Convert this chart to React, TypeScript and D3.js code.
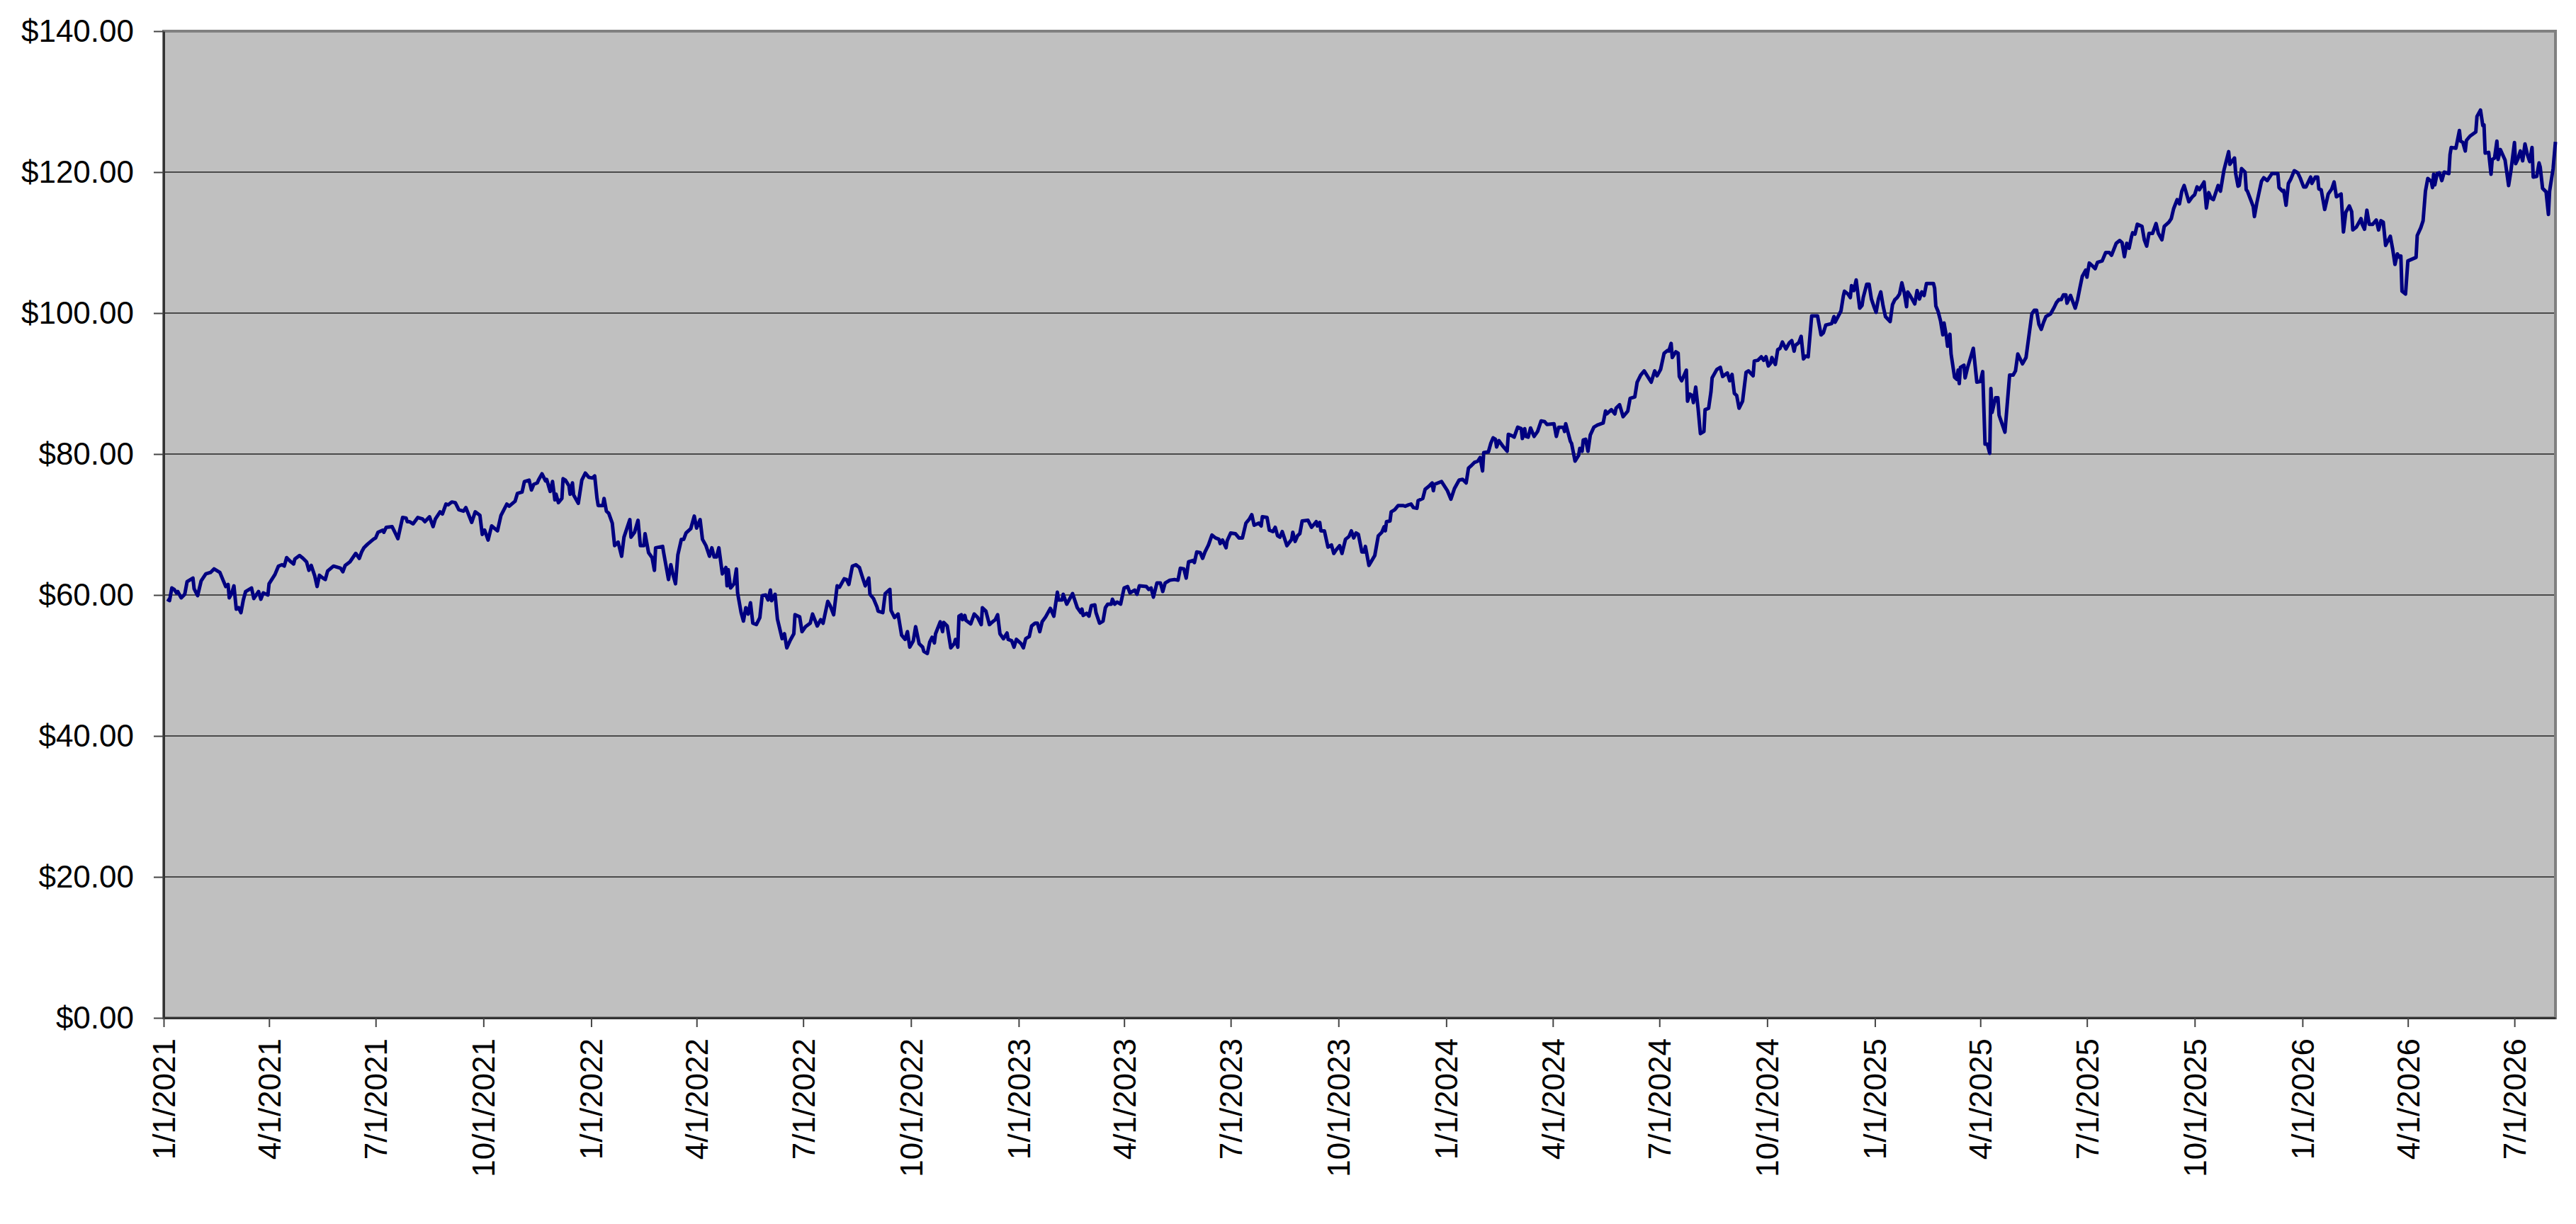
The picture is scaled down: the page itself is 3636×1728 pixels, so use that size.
import * as d3 from 'd3';
import React, { useEffect, useRef } from 'react';

const startDate = Date.UTC(2021, 0, 1);

const dayOffsets = [
  // 2021
  3, 5, 7, 9, 11, 12, 15, 18, 20, 25,
  26, 29, 32, 36, 40, 43, 48, 51, 53, 55,
  56, 58, 60, 62, 64, 66, 68, 70, 75, 77,
  81, 83, 85, 89, 90, 95, 98, 101, 103, 105,
  108, 111, 112, 116, 119, 122, 124, 126, 129, 131,
  133, 136, 138, 140, 145, 151, 153, 155, 159, 164,
  167, 169, 171, 174, 179, 181, 183, 187, 188, 190,
  195, 198, 200, 204, 207, 208, 210, 213, 217, 221,
  223, 227, 230, 232, 236, 238, 241, 243, 246, 249,
  252, 256, 258, 263, 266, 270, 272, 274, 277, 280,
  285, 288, 293,
  // late 2021 - mid 2022
  295, 300, 302, 306, 308, 312, 314, 316, 319, 320,
  323, 326, 327, 330, 332, 334, 335, 337, 340, 341,
  343, 346, 347, 349, 350, 354, 357, 360, 363, 366,
  368, 370, 371, 375, 376, 378, 380, 383, 385, 388,
  391, 393, 398, 399, 402, 405, 407, 410, 411, 414,
  417, 419, 420, 426, 427, 431, 433, 435, 437, 439,
  442, 444, 446, 450, 453, 455, 458, 460, 463, 466,
  468, 470, 472, 474, 477, 480, 481, 482, 484, 487,
  489, 490, 493, 495, 497, 499, 501, 503, 506, 509,
  511, 514, 516, 518, 519, 522, 524, 528, 530, 532,
  535, 538, 539, 543, 545, 548, 552, 554, 558, 561,
  563, 567, 569, 572, 575, 577, 581, 583, 585, 588,
  // mid 2022 - mid 2023
  591, 594, 597, 599, 602, 603, 606, 609, 610, 614,
  616, 620, 621, 624, 627, 630, 633, 635, 637, 640,
  642, 645, 648, 649, 652, 654, 656, 658, 659, 663,
  665, 666, 669, 672, 675, 676, 678, 679, 681, 682,
  684, 685, 689, 692, 695, 698, 699, 702, 705, 707,
  710, 712, 714, 717, 720, 721, 724, 726, 728, 732,
  734, 736, 739, 741, 744, 746, 748, 750, 753, 757,
  760, 763, 764, 767, 768, 771, 776, 780, 783, 784,
  785, 788, 790, 792, 795, 796, 799, 802, 804, 806,
  809, 810, 812, 814, 817, 820, 823, 825, 829, 831,
  833, 839, 841, 843, 845, 848, 851, 853, 855, 859,
  863, 866, 868, 871, 873, 875, 879, 880, 882, 885,
  // mid 2023 - early 2024
  887, 889, 892, 895, 898, 901, 902, 904, 907, 908,
  911, 915, 918, 921, 924, 927, 929, 931, 935, 937,
  938, 942, 944, 947, 949, 951, 953, 955, 959, 963,
  964, 966, 968, 970, 972, 977, 980, 984, 985, 987,
  988, 991, 994, 997, 999, 1001, 1004, 1006, 1009, 1012,
  1014, 1016, 1018, 1020, 1023, 1025, 1026, 1029, 1034, 1037,
  1040, 1042, 1043, 1044, 1047, 1048, 1051, 1054, 1058, 1060,
  1063, 1065, 1067, 1070, 1071, 1075, 1077, 1080, 1083, 1084,
  1085, 1091, 1096, 1099, 1102, 1106, 1109, 1112, 1114, 1116,
  1119, 1122, 1124, 1126, 1127, 1131, 1133, 1135, 1137, 1138,
  1140, 1143, 1147, 1148, 1151, 1153, 1156, 1159, 1160, 1162,
  1163, 1165, 1167, 1170, 1173, 1176, 1179, 1181,
  // 2024
  1187, 1189, 1191, 1195, 1196, 1197, 1201, 1202, 1205, 1208,
  1209, 1211, 1212, 1214, 1216, 1218, 1221, 1224, 1229, 1231,
  1232, 1236, 1239, 1240, 1243, 1246, 1250, 1252, 1256, 1258,
  1261, 1264, 1270, 1273, 1275, 1278, 1281, 1284, 1285, 1287,
  1288, 1291, 1293, 1294, 1296, 1300, 1301, 1303, 1305, 1306,
  1308, 1310, 1312, 1315, 1316, 1319, 1321, 1322, 1326, 1329,
  1331, 1335, 1337, 1339, 1341, 1343, 1345, 1348, 1351, 1353,
  1357, 1358, 1361, 1364, 1366, 1368, 1370, 1372, 1373, 1376,
  1378, 1380, 1382, 1385, 1388, 1390, 1392, 1393, 1396, 1398,
  1400, 1402, 1404, 1407, 1412, 1415, 1417, 1419, 1424, 1426,
  1427, 1432, 1434, 1435, 1438, 1440, 1441, 1443, 1445, 1448,
  1450, 1451, 1454, 1456, 1458, 1460, 1462, 1464, 1466, 1468,
  1470, 1474, 1476, 1478,
  // 2025
  1480, 1482, 1484, 1486, 1488, 1489, 1491, 1495, 1497, 1499,
  1501, 1503, 1505, 1511, 1512, 1513, 1515, 1517, 1519, 1520,
  1522, 1523, 1525, 1526, 1529, 1531, 1532, 1533, 1534, 1537,
  1538, 1540, 1545, 1548, 1551, 1553, 1555, 1557, 1559, 1560,
  1561, 1564, 1566, 1567, 1572, 1576, 1579, 1581, 1583, 1587,
  1590, 1595, 1597, 1599, 1601, 1603, 1605, 1607, 1609, 1611,
  1614, 1616, 1618, 1620, 1622, 1624, 1625, 1628, 1632, 1634,
  1636, 1638, 1641, 1642, 1644, 1646, 1649, 1651, 1655, 1658,
  1661, 1663, 1667, 1670, 1672, 1674, 1676, 1678, 1680, 1681,
  1683, 1685, 1689, 1691, 1693, 1695, 1698, 1701, 1703, 1706,
  1708, 1712, 1714, 1716, 1719, 1721, 1723, 1725, 1729, 1732,
  1734, 1736, 1738, 1742, 1744, 1746, 1748, 1750, 1754, 1756,
  1759, 1763, 1764, 1768, 1769, 1771, 1772, 1774,
  // late 2025 - 2026
  1777, 1778, 1779, 1782, 1784, 1785, 1787, 1791, 1793, 1796,
  1798, 1800, 1805, 1806, 1809, 1810, 1812, 1814, 1816, 1819,
  1822, 1824, 1827, 1829, 1833, 1834, 1837, 1839, 1840, 1842,
  1845, 1848, 1851, 1853, 1855, 1859, 1861, 1863, 1866, 1868,
  1869, 1872, 1876, 1877, 1879, 1881, 1883, 1886, 1889, 1891,
  1893, 1895, 1897, 1901, 1903, 1905, 1907, 1909, 1910, 1911,
  1914, 1916, 1923, 1924, 1927, 1929, 1931, 1933, 1936, 1937,
  1938, 1939, 1941, 1943, 1945, 1947, 1951, 1952, 1953, 1957,
  1960, 1961, 1963, 1965, 1966, 1969, 1974, 1975, 1978, 1980,
  1981, 1982, 1985, 1987, 1988, 1990, 1992, 1993, 1995, 1999,
  2002, 2004, 2007, 2008, 2010, 2012, 2014, 2016, 2018, 2020,
  2022, 2023, 2026, 2028, 2029, 2031, 2034, 2036, 2037, 2040,
  2042,
];

const closes = [
  // 2021
  59.4, 59.2, 61.0, 60.8, 60.3, 60.5, 59.6, 60.1, 61.9, 62.4,
  60.9, 59.9, 62.0, 63.0, 63.2, 63.7, 63.2, 62.0, 61.2, 61.5,
  59.6, 60.2, 61.3, 58.0, 58.2, 57.5, 59.3, 60.5, 61.0, 59.5,
  60.5, 59.4, 60.3, 60.0, 61.6, 62.9, 64.1, 64.3, 64.1, 65.3,
  64.8, 64.4, 65.1, 65.6, 65.2, 64.7, 63.5, 64.2, 62.7, 61.2,
  62.8, 62.4, 62.2, 63.4, 64.1, 63.8, 63.3, 64.2, 64.7, 65.9,
  65.2, 66.1, 66.7, 67.2, 67.9, 68.1, 68.9, 69.2, 68.9, 69.6,
  69.7, 68.7, 68.0, 71.0, 70.9, 70.4, 70.4, 70.1, 71.0, 70.8,
  70.4, 71.1, 69.7, 70.8, 71.8, 71.5, 72.9, 72.8, 73.2, 73.1,
  72.1, 71.9, 72.4, 70.3, 71.8, 71.3, 68.6, 69.2, 67.8, 69.8,
  69.1, 71.3, 72.9,
  // late 2021 - mid 2022
  72.6, 73.3, 74.4, 74.6, 76.1, 76.3, 74.9, 75.7, 75.9, 76.3,
  77.2, 76.2, 76.4, 74.7, 76.1, 73.5, 74.3, 73.1, 73.7, 76.5,
  76.3, 75.5, 74.3, 75.9, 74.2, 73.0, 76.3, 77.3, 76.7, 76.6,
  76.9, 73.7, 72.7, 72.7, 73.7, 71.9, 71.6, 70.2, 67.0, 67.5,
  65.5, 68.2, 70.7, 68.2, 68.9, 70.6, 67.0, 67.0, 68.7, 66.0,
  65.3, 63.5, 66.7, 66.9, 65.9, 62.2, 64.3, 62.8, 61.6, 65.7,
  67.9, 67.9, 68.8, 69.4, 71.2, 69.5, 70.7, 67.9, 67.0, 65.5,
  66.7, 65.4, 65.4, 66.7, 63.0, 63.9, 61.3, 63.6, 61.0, 61.6,
  63.7, 60.3, 57.5, 56.3, 58.2, 57.3, 58.9, 56.0, 55.8, 56.8,
  59.9, 60.0, 59.3, 60.7, 59.2, 60.1, 56.6, 53.8, 54.5, 52.5,
  53.6, 54.5, 57.2, 56.9, 54.8, 55.5, 56.0, 57.3, 55.6, 56.5,
  56.0, 59.1, 58.5, 57.2, 61.3, 61.1, 62.3, 62.2, 61.5, 64.1,
  // mid 2022 - mid 2023
  64.3, 63.9, 62.3, 61.3, 62.4, 60.1, 59.5, 58.3, 57.7, 57.5,
  60.2, 60.8, 57.8, 56.8, 57.3, 54.3, 53.7, 54.8, 52.6, 53.5,
  55.5, 53.1, 52.6, 52.0, 51.7, 53.3, 54.0, 53.2, 54.5, 56.2,
  54.8, 56.1, 55.6, 52.5, 53.1, 53.7, 52.6, 57.0, 57.2, 56.5,
  57.1, 56.4, 55.9, 57.3, 56.8, 55.8, 58.2, 57.7, 55.8, 56.1,
  56.5, 57.2, 54.5, 53.8, 54.6, 53.7, 53.5, 52.6, 53.7, 53.1,
  52.5, 53.8, 54.1, 55.6, 56.0, 56.0, 54.8, 56.2, 56.9, 58.1,
  57.0, 60.4, 59.3, 59.3, 60.1, 58.7, 60.2, 58.2, 57.5, 58.0,
  57.1, 57.4, 57.0, 58.5, 58.6, 57.5, 56.0, 56.3, 58.2, 58.7,
  58.7, 59.4, 58.7, 59.0, 58.7, 61.0, 61.2, 60.3, 60.7, 60.1,
  61.3, 61.2, 60.8, 61.0, 59.7, 61.7, 61.7, 60.5, 61.7, 62.1,
  62.2, 62.1, 63.8, 63.7, 62.4, 64.7, 64.9, 64.6, 66.1, 66.0,
  // mid 2023 - early 2024
  65.2, 66.1, 67.1, 68.5, 68.1, 67.9, 67.3, 67.8, 66.7, 67.7,
  68.8, 68.7, 68.1, 68.1, 70.2, 70.8, 71.4, 69.9, 70.2, 69.8,
  71.1, 71.0, 69.2, 69.0, 69.6, 68.4, 68.2, 69.0, 67.0, 67.9,
  68.9, 67.6, 68.4, 68.7, 70.5, 70.6, 69.6, 70.4, 69.8, 70.3,
  69.1, 69.1, 66.8, 67.1, 65.9, 66.4, 67.0, 65.9, 67.9, 68.3,
  69.1, 68.1, 68.8, 68.6, 66.1, 66.1, 66.9, 64.2, 65.6, 68.4,
  68.9, 69.7, 69.1, 70.4, 70.5, 71.8, 72.1, 72.7, 72.7, 72.6,
  72.8, 72.9, 72.4, 72.3, 73.4, 73.7, 75.0, 75.4, 75.9, 74.8,
  75.7, 76.1, 74.8, 73.6, 75.1, 76.3, 76.4, 75.9, 78.0, 78.3,
  78.8, 79.0, 79.5, 77.6, 80.2, 80.3, 81.5, 82.3, 82.1, 81.0,
  81.9, 81.2, 80.4, 82.8, 82.6, 82.4, 83.8, 83.6, 82.2, 83.6,
  82.5, 82.4, 83.7, 82.5, 83.2, 84.7, 84.6, 84.2,
  // 2024
  84.3, 82.5, 83.8, 83.8, 83.2, 84.3, 81.8, 81.5, 79.0, 79.8,
  80.8, 80.4, 82.0, 82.1, 80.4, 82.7, 83.8, 84.1, 84.4, 86.1,
  85.7, 86.3, 85.7, 86.5, 87.0, 85.3, 86.1, 87.9, 88.1, 90.2,
  91.2, 91.8, 90.2, 91.8, 91.1, 92.0, 94.3, 94.7, 94.6, 95.7,
  93.7, 94.5, 94.3, 91.0, 90.4, 91.9, 87.5, 88.5, 88.3, 87.3,
  89.5, 86.5, 82.9, 83.2, 86.3, 86.5, 88.8, 90.8, 92.0, 92.3,
  91.0, 91.5, 90.4, 91.3, 88.6, 88.3, 86.5, 87.5, 91.6, 91.8,
  91.1, 93.2, 93.3, 93.8, 93.3, 93.8, 92.5, 92.9, 93.7, 92.7,
  94.8, 95.0, 95.9, 94.9, 95.8, 96.1, 94.6, 95.4, 95.8, 96.7,
  93.5, 93.9, 93.8, 99.6, 99.6, 96.9, 97.2, 98.3, 98.5, 99.5,
  98.7, 100.3, 102.4, 103.1, 102.7, 102.2, 103.9, 103.2, 104.7, 100.7,
  101.1, 102.2, 104.1, 104.1, 102.0, 101.0, 100.1, 102.0, 103.0, 101.0,
  99.5, 98.8, 101.2, 101.9,
  // 2025
  102.2, 102.7, 104.3, 102.9, 100.9, 103.0, 102.5, 101.3, 103.2, 102.0,
  103.0, 102.5, 104.2, 104.2, 103.5, 101.0, 100.2, 98.9, 96.9, 98.6,
  96.7, 95.3, 97.0, 94.2, 90.9, 90.6, 91.9, 90.0, 92.3, 92.6,
  90.8, 92.2, 95.0, 90.2, 90.3, 91.7, 81.4, 81.4, 80.1, 89.3,
  85.9, 88.0, 88.0, 85.5, 83.1, 91.2, 91.2, 91.8, 94.2, 92.8,
  93.7, 99.9, 100.4, 100.4, 98.4, 97.7, 98.7, 99.5, 99.7, 99.9,
  100.8, 101.5, 101.9, 101.9, 102.6, 102.6, 101.4, 102.5, 100.7, 101.9,
  103.6, 105.2, 106.1, 105.1, 107.1, 106.8, 106.3, 107.2, 107.4, 108.6,
  108.6, 108.2, 109.9, 110.3, 110.0, 108.0, 109.9, 109.2, 110.8, 111.4,
  111.2, 112.6, 112.3, 110.4, 109.5, 111.3, 111.3, 112.7, 111.3, 110.4,
  112.3, 112.9, 113.4, 114.8, 116.1, 115.5, 117.3, 118.1, 115.8, 116.5,
  116.8, 117.9, 117.5, 118.6, 114.9, 117.1, 116.3, 116.1, 118.1, 117.3,
  120.3, 122.9, 121.1, 122.0, 119.8, 118.0, 118.1, 120.5,
  // late 2025 - 2026
  120.0, 117.5, 117.3, 116.0, 115.1, 113.7, 115.6, 118.7, 119.2, 118.8,
  119.3, 119.8, 119.8, 117.8, 117.3, 117.4, 115.3, 118.4, 119.0, 120.2,
  119.9, 119.2, 117.9, 117.9, 119.3, 118.4, 119.3, 119.3, 117.6, 117.5,
  114.7, 116.9, 117.6, 118.6, 116.5, 116.9, 111.5, 114.3, 115.2, 114.4,
  111.8, 112.2, 113.4, 112.6, 111.9, 114.6, 112.6, 112.6, 113.2, 111.8,
  113.1, 112.9, 109.6, 110.9, 109.1, 106.9, 108.4, 107.9, 108.1, 103.1,
  102.7, 107.4, 107.9, 111.0, 112.1, 113.1, 117.3, 119.1, 118.7, 117.8,
  119.7, 118.2, 119.8, 119.9, 118.8, 120.0, 119.8, 122.5, 123.5, 123.4,
  125.9, 124.4, 124.2, 123.0, 124.5, 125.1, 125.7, 127.9, 128.8, 126.6,
  126.7, 122.7, 122.8, 119.7, 121.8, 122.0, 124.4, 121.8, 123.2, 121.7,
  118.1, 120.2, 124.2, 121.2, 121.9, 123.0, 121.6, 124.0, 122.5, 121.5,
  123.5, 119.3, 119.4, 121.3, 120.7, 117.7, 117.2, 114.0, 117.3, 120.5,
  124.3,
];

const yTicks = [0, 20, 40, 60, 80, 100, 120, 140];

const xTickLabels = [
  '1/1/2021', '4/1/2021', '7/1/2021', '10/1/2021',
  '1/1/2022', '4/1/2022', '7/1/2022', '10/1/2022',
  '1/1/2023', '4/1/2023', '7/1/2023', '10/1/2023',
  '1/1/2024', '4/1/2024', '7/1/2024', '10/1/2024',
  '1/1/2025', '4/1/2025', '7/1/2025', '10/1/2025',
  '1/1/2026', '4/1/2026', '7/1/2026',
];

export default function App() {
  const svgRef = useRef<SVGSVGElement | null>(null);

  const width = 3636;
  const height = 1728;
  const marginTop = 44;
  const marginRight = 29;
  const marginBottom = 291;
  const marginLeft = 231;
  const font = '"Liberation Sans", Arial, sans-serif';

  useEffect(() => {
    const n = Math.min(dayOffsets.length, closes.length);
    const start = new Date(startDate);
    const data = d3.range(n).map(i => ({
      date: d3.utcDay.offset(start, dayOffsets[i]),
      price: closes[i],
    }));

    const parseTick = d3.utcParse('%m/%d/%Y');
    const tickDates = xTickLabels.map(s => parseTick(s) as Date);

    const x = d3.scaleUtc()
      .domain([start, data[n - 1].date])
      .range([marginLeft, width - marginRight]);

    const y = d3.scaleLinear()
      .domain([0, 140])
      .range([height - marginBottom, marginTop]);

    const line = d3.line<{ date: Date; price: number }>()
      .x(d => x(d.date))
      .y(d => y(d.price));

    const svg = d3.select(svgRef.current)
      .attr('width', width)
      .attr('height', height)
      .attr('viewBox', `0 0 ${width} ${height}`);

    svg.selectAll('*').remove();

    svg.append('rect')
      .attr('width', width)
      .attr('height', height)
      .attr('fill', '#ffffff');

    // grey plot area
    svg.append('rect')
      .attr('x', marginLeft)
      .attr('y', marginTop)
      .attr('width', width - marginLeft - marginRight)
      .attr('height', height - marginTop - marginBottom)
      .attr('fill', '#c0c0c0');

    // horizontal gridlines
    svg.append('g')
      .selectAll('line')
      .data(yTicks.slice(1, -1))
      .join('line')
      .attr('x1', marginLeft)
      .attr('x2', width - marginRight)
      .attr('y1', d => y(d))
      .attr('y2', d => y(d))
      .attr('stroke', '#4a4a4a')
      .attr('stroke-width', 2);

    // plot area border
    svg.append('rect')
      .attr('x', marginLeft)
      .attr('y', marginTop)
      .attr('width', width - marginLeft - marginRight)
      .attr('height', height - marginTop - marginBottom)
      .attr('fill', 'none')
      .attr('stroke', '#808080')
      .attr('stroke-width', 4);

    svg.append('path')
      .datum(data)
      .attr('fill', 'none')
      .attr('stroke', '#000080')
      .attr('stroke-width', 5)
      .attr('stroke-linejoin', 'round')
      .attr('d', line);

    // y axis
    svg.append('g')
      .attr('transform', `translate(${marginLeft},0)`)
      .call(d3.axisLeft(y)
        .tickValues(yTicks)
        .tickFormat(d3.format('$.2f'))
        .tickSize(14)
        .tickPadding(28)
        .tickSizeOuter(0))
      .call(g => g.select('.domain').attr('stroke', '#333').attr('stroke-width', 3))
      .call(g => g.selectAll('.tick line').attr('stroke', '#444').attr('stroke-width', 2))
      .call(g => g.selectAll('.tick text')
        .attr('font-family', font)
        .attr('font-size', 44)
        .attr('fill', '#000')
        .attr('dy', '0.33em'));

    // x axis with rotated date labels
    svg.append('g')
      .attr('transform', `translate(0,${height - marginBottom})`)
      .call(d3.axisBottom(x)
        .tickValues(tickDates)
        .tickFormat((_d, i) => xTickLabels[i])
        .tickSize(13)
        .tickSizeOuter(0))
      .call(g => g.select('.domain').attr('stroke', '#333').attr('stroke-width', 3))
      .call(g => g.selectAll('.tick line').attr('stroke', '#444').attr('stroke-width', 2))
      .call(g => g.selectAll('.tick text')
        .attr('font-family', font)
        .attr('font-size', 44)
        .attr('fill', '#000')
        .attr('text-anchor', 'end')
        .attr('x', 0)
        .attr('y', 0)
        .attr('dy', '0.35em')
        .attr('transform', 'translate(0,29) rotate(-90)'));
  }, []);

  return (
    <div style={{ position: 'absolute', left: 0, top: 0 }}>
      <svg ref={svgRef} style={{ display: 'block' }}></svg>
    </div>
  );
}
